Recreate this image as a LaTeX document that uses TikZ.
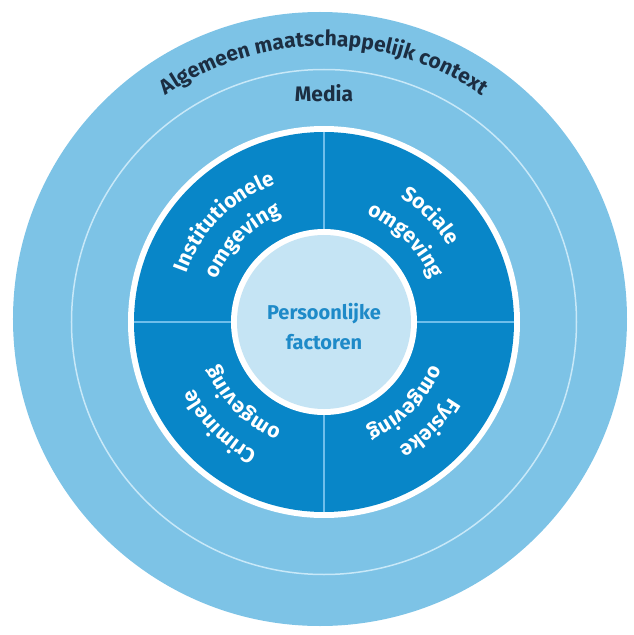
\documentclass[tikz,border=0pt]{standalone}
\usepackage{fontspec}
\setmainfont{Fira Sans}
\usetikzlibrary{decorations.text}

\definecolor{contextblauw}{RGB}{125,195,230}
\definecolor{ringblauw}{RGB}{8,134,200}
\definecolor{kernblauw}{RGB}{197,228,244}
\definecolor{kerntekst}{RGB}{30,138,200}
\definecolor{donker}{RGB}{28,46,66}
\definecolor{scheiding}{RGB}{110,190,235}
\definecolor{medialijn}{RGB}{200,232,248}

\newcommand\labelfont{\fontsize{20}{30}\selectfont\bfseries}
\newcommand\contextfont{\fontsize{21}{30}\selectfont\bfseries}

\begin{document}
\begin{tikzpicture}[x=1pt,y=1pt,
  boog/.style={decorate,decoration={text along path,text align=center,
    text color=#1}},
  boog/.default=white]

\useasboundingbox (-324,-313) rectangle (309,322);

\fill[contextblauw] (-4,3) circle (307pt);

\draw[medialijn,line width=1.5pt] (0,0) circle (252.5pt);

\fill[white] (0,0) circle (196pt);
\fill[ringblauw] (0,0) circle (190pt);

\draw[scheiding,line width=1.5pt] (0,-190) -- (0,190);
\draw[scheiding,line width=1.5pt] (-190,0) -- (190,0);

\fill[white] (0,0) circle (93pt);
\fill[kernblauw] (0,0) circle (87pt);

\path[boog=donker,decoration={text={|\contextfont|Algemeen maatschappelijk context}}]
(160:276pt) arc[start angle=160,end angle=20,radius=276pt];

\node[donker,font=\contextfont,anchor=base] (media) at (0,220) {Media};

\node[kerntekst,font=\labelfont,align=center] (kern) at (0,-5)
{Persoonlijke\\factoren};

\path[boog,decoration={text={|\contextfont|Institutionele}}]
(179:146pt) arc[start angle=179,end angle=91,radius=146pt];
\path[boog,decoration={text={|\contextfont|omgeving}}]
(179:115pt) arc[start angle=179,end angle=91,radius=115pt];

\path[boog,decoration={text={|\contextfont|Sociale}}]
(89:146pt) arc[start angle=89,end angle=1,radius=146pt];
\path[boog,decoration={text={|\contextfont|omgeving}}]
(89:115pt) arc[start angle=89,end angle=1,radius=115pt];

\path[boog,decoration={text={|\contextfont|Fysieke}}]
(-1:146pt) arc[start angle=-1,end angle=-89,radius=146pt];
\path[boog,decoration={text={|\contextfont|omgeving}}]
(-1:115pt) arc[start angle=-1,end angle=-89,radius=115pt];

\path[boog,decoration={text={|\contextfont|Criminele}}]
(-91:146pt) arc[start angle=-91,end angle=-179,radius=146pt];
\path[boog,decoration={text={|\contextfont|omgeving}}]
(-91:115pt) arc[start angle=-91,end angle=-179,radius=115pt];

\end{tikzpicture}
\end{document}
